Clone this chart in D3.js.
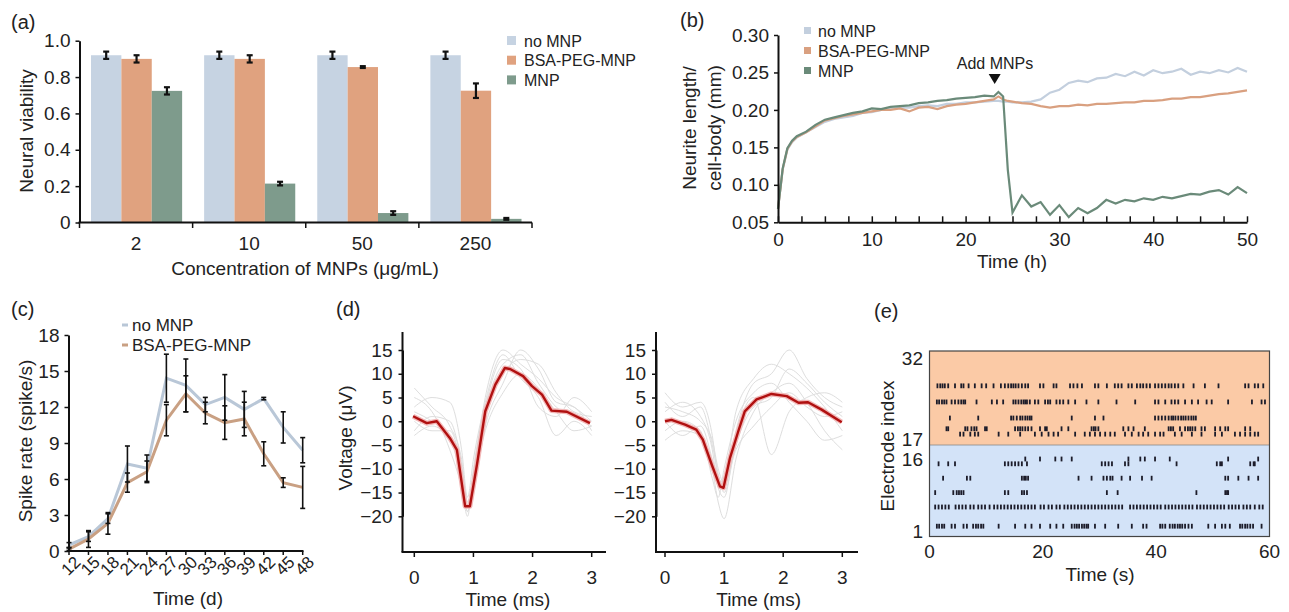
<!DOCTYPE html>
<html>
<head>
<meta charset="UTF-8">
<script src="https://d3js.org/d3.v7.min.js"></script>
<style>
  body { margin: 0; background: #fff; }
  svg text { font-family: "Liberation Sans", Arial, sans-serif; fill: #222; }
</style>
</head>
<body>
<svg id="fig" width="1289" height="612"></svg>
<script>
// ---------- (a) viability ----------
const concLabels = ["2", "10", "50", "250"];
const seriesNames = ["no MNP", "BSA-PEG-MNP", "MNP"];
const viabNoMNP = [0.92, 0.92, 0.92, 0.92];
const viabBSA   = [0.90, 0.90, 0.855, 0.725];
const viabMNP   = [0.724, 0.214, 0.052, 0.02];
const errNoMNP  = [0.02, 0.02, 0.02, 0.02];
const errBSA    = [0.02, 0.02, 0.005, 0.04];
const errMNP    = [0.02, 0.01, 0.01, 0.005];

// ---------- (b) neurite length ----------
const timeH = [0,0.5,1,1.5,2,3,4,5,6,7,8,9,10,11,12,13,14,15,16,17,18,19,20,21,22,23,23.5,24,24.5,25,
  26,27,28,29,30,31,32,33,34,35,36,37,38,39,40,41,42,43,44,45,46,47,48,49,50];
const lenNoMNP = [0.068,0.12,0.147,0.157,0.163,0.170,0.177,0.184,0.188,0.190,0.192,0.196,0.197,0.200,0.201,0.203,0.203,0.205,0.206,0.205,0.208,0.208,0.210,0.210,0.211,0.212,0.212,0.211,0.211,0.210,
  0.210,0.211,0.214,0.223,0.227,0.236,0.239,0.237,0.242,0.243,0.248,0.245,0.251,0.246,0.253,0.249,0.251,0.255,0.247,0.251,0.249,0.253,0.250,0.256,0.251];
const lenBSA = [0.068,0.121,0.148,0.158,0.164,0.170,0.178,0.186,0.189,0.192,0.194,0.196,0.198,0.200,0.200,0.202,0.198,0.203,0.204,0.201,0.205,0.207,0.208,0.210,0.212,0.214,0.218,0.214,0.212,0.211,
  0.209,0.208,0.205,0.203,0.205,0.205,0.207,0.206,0.208,0.208,0.209,0.210,0.210,0.212,0.212,0.213,0.215,0.215,0.217,0.217,0.219,0.221,0.222,0.224,0.226];
const lenMNP = [0.068,0.122,0.149,0.159,0.165,0.171,0.180,0.187,0.190,0.193,0.196,0.198,0.202,0.201,0.204,0.205,0.206,0.209,0.210,0.212,0.213,0.215,0.216,0.217,0.219,0.218,0.224,0.218,0.120,0.063,
  0.086,0.071,0.077,0.060,0.073,0.057,0.069,0.062,0.069,0.080,0.075,0.080,0.078,0.082,0.080,0.084,0.082,0.085,0.088,0.087,0.091,0.093,0.087,0.097,0.089];

// ---------- (c) spike rate ----------
const days = [12,15,18,21,24,27,30,33,36,39,42,45,48];
const rateNoMNP = [0.5,1.2,2.7,7.25,6.9,14.4,13.8,12.2,12.8,11.8,12.7,10.3,8.4];
const rateBSA   = [0.15,1.0,2.3,5.7,6.6,10.9,13.1,11.5,10.7,11.0,8.1,5.7,5.3];
const sdNoMNP   = [0.2,0.4,0.4,1.5,1.1,2.0,2.2,0.6,1.9,1.5,0.1,1.3,1.05];
const sdBSA     = [0.1,0.7,0.9,0.8,0.9,1.3,1.5,0.9,1.4,1.4,1.0,0.4,1.75];

// ---------- (d) spike waveforms ----------
const waveT = [0,0.3,0.6,0.8,0.9,1.0,1.2,1.5,1.8,2.1,2.4,2.7,3.0];
const leftTraces = [
  [7,3,-1,-8,-17,-12,2,12,14,8,3,1,-1],
  [-3,-1,-4,-12,-19,-14,-1,8,15,11,4,3,-2],
  [3,5,4,-6,-16,-8,4,14,9,5,-3,0,-3],
  [0,-2,-2,-10,-18,-15,1,10,13,12,6,2,1],
  [5,2,-6,-14,-20,-10,3,13,11,3,1,5,2],
  [-2,1,0,-9,-17,-13,-2,6,10,7,2,-2,-1],
  [2,0,-3,-11,-19,-11,5,15,12,9,5,3,0]
];
const rightTraces = [
  [6,3,4,-3,-12,-14,-2,8,10,15,9,5,3],
  [-4,-2,-3,-10,-17,-20.5,-8,2,6,8,4,-2,-6],
  [2,4,1,-6,-14,-16,-3,5,-7,2,5,6,4],
  [0,-3,-1,-8,-13,-12,2,9,12,10,7,3,-2],
  [4,1,3,-5,-11,-15,-5,3,5,11,8,4,1],
  [-2,0,-2,-12,-16,-10,0,6,8,4,0,-4,-3],
  [3,2,0,-4,-10,-13,-6,-1,3,6,3,1,2]
];
const leftMeanT = [-0.02,0.21,0.38,0.6,0.72,0.86,0.94,1.06,1.2,1.37,1.53,1.62,1.84,1.99,2.16,2.32,2.58,2.97];
const leftMeanV = [1.05,-0.4,0,-3.5,-6,-17.9,-17.9,-9.1,2.1,7.7,11.2,11.0,9.5,7.4,5.6,2.25,2.0,-0.4];
const rightMeanT = [0,0.11,0.34,0.53,0.64,0.79,0.93,0.99,1.1,1.24,1.35,1.55,1.8,2.06,2.26,2.42,2.65,2.99];
const rightMeanV = [0,0.3,-0.7,-1.75,-3.85,-9.1,-13.7,-14.0,-7.7,-2.1,2.1,4.6,5.75,5.3,3.9,4.0,2.45,-0.2];

// ---------- (e) raster ----------
const rasterElectrodes = [27,24,21,19,18,16,15,12,9,6,2];
const spikesE27 = [1.4,1.9,2.3,2.7,3.3,4.5,5.6,6.0,6.9,8.0,9.2,10.0,11.3,12.6,13.3,13.9,14.4,14.8,15.2,15.7,16.3,16.9,17.4,19.5,20.1,21.9,22.4,24.8,25.4,26.1,26.9,29.2,29.8,31.3,32.7,33.3,33.9,35.1,35.7,36.6,37.2,37.7,38.3,38.9,39.8,40.4,41.0,41.6,42.2,42.7,43.3,43.9,44.8,46.6,48.6,51.0,55.7,56.3,57.4,58.0,58.9];
const spikesE24 = [1.3,1.7,2.2,2.6,3.0,3.9,4.5,5.1,5.6,6.0,6.3,8.3,11.0,11.9,13.0,14.8,15.2,15.7,16.2,16.6,16.9,17.2,17.7,18.6,19.2,20.4,20.9,21.3,22.4,23.0,23.6,24.5,25.7,27.7,29.8,33.0,36.3,39.8,40.4,41.6,42.7,43.3,43.9,45.1,46.3,47.4,48.9,49.8,52.7,56.9,58.6,59.2];
const spikesE21 = [3.6,8.6,14.4,14.8,15.4,16.0,16.4,16.9,17.3,17.7,18.0,25.1,29.2,30.7,39.8,40.4,41.0,41.6,42.2,42.7,43.0,43.4,43.9,44.4,44.8,45.2,45.7,46.2,46.6,47.0];
const spikesE19 = [3.0,3.3,6.3,6.7,7.4,7.9,8.3,9.8,10.1,15.1,15.6,16.0,16.4,16.9,17.4,18.0,19.5,20.4,20.7,23.3,24.5,28.6,29.0,29.3,29.8,34.2,35.1,36.0,38.0,42.2,42.6,43.0,44.2,45.1,45.6,46.0,46.4,46.9,48.0,48.6,50.4,51.3,52.2,52.7,55.7,56.6];
const spikesE18 = [5.4,6.0,7.2,8.0,8.6,12.2,13.9,16.0,18.6,19.8,21.0,21.9,22.7,25.7,27.4,28.3,29.2,30.1,31.0,31.9,32.7,34.5,35.7,36.9,37.7,38.6,39.8,40.7,41.3,43.3,44.5,46.3,48.0,50.4,51.6,53.9,54.8,55.7,56.6,57.4,58.0];
const spikesE16 = [16.9,19.5,22.2,23.3,25.1,35.1,37.2,38.0,39.8,42.4,52.7,58.0];
const spikesE15 = [1.6,3.3,4.5,13.3,13.9,14.5,15.1,15.7,16.3,17.2,30.4,31.0,31.6,32.2,34.5,35.1,43.6,50.7,51.3,51.6,56.6,57.2,57.4];
const spikesE12 = [2.4,6.6,7.2,16.3,16.7,17.0,17.4,26.3,28.6,30.7,31.3,31.9,32.3,33.9,35.4,37.5,39.2,52.2,52.7,54.5,56.3,58.0];
const spikesE9  = [1.0,4.2,4.8,5.2,5.6,6.0,13.3,13.9,16.3,16.7,17.2,31.3,33.2,47.1,52.2,52.5,52.7];
const spikesE6  = [1.0,1.6,2.2,2.8,3.4,4.6,5.2,5.8,6.4,7.2,7.8,8.6,9.2,9.8,10.6,11.4,12.0,12.6,13.2,13.8,14.4,15.0,15.6,16.2,16.8,17.4,18.0,18.6,19.6,20.2,21.0,21.6,22.4,23.0,23.8,24.4,25.0,25.6,26.2,26.8,27.4,28.0,28.6,29.2,29.8,30.4,31.0,31.6,32.2,32.8,33.4,34.0,35.4,36.0,36.6,37.2,37.8,38.4,39.0,39.6,40.2,40.8,41.6,42.2,42.8,43.4,44.0,44.6,45.2,45.8,46.4,47.2,47.8,48.4,49.0,49.6,50.2,50.8,51.4,52.0,52.8,53.4,54.0,54.6,55.4,56.0,56.6,57.4,58.2,58.8];
const spikesE2  = [1.3,1.7,2.2,2.6,3.9,4.5,6.0,6.6,7.7,8.2,8.6,9.1,9.5,12.2,15.1,16.9,18.0,19.5,21.3,22.4,23.6,25.1,25.6,26.0,26.4,26.9,27.3,27.7,28.0,29.2,31.0,33.3,35.7,37.7,38.3,40.7,41.1,41.6,42.4,42.9,43.3,43.8,44.2,44.6,45.1,45.7,46.3,49.2,50.4,51.6,52.2,53.0,54.8,55.2,55.7,56.1,56.6,57.1,58.6];
const rasterSpikes = [spikesE27,spikesE24,spikesE21,spikesE19,spikesE18,spikesE16,spikesE15,spikesE12,spikesE9,spikesE6,spikesE2];

const colNo = "#c6d3e2", colBSA = "#e0a27f", colMNP = "#7e9b8c";
const FS = 19;   // tick labels and axis titles
const svg = d3.select("#fig");
svg.append("rect").attr("width", 1289).attr("height", 612).attr("fill", "#fff");

function txt(x, y, s, size, anchor, rot) {
  const t = svg.append("text").attr("font-size", size || FS)
    .attr("text-anchor", anchor || "middle").text(s);
  if (rot) t.attr("transform", `translate(${x},${y}) rotate(${rot})`).attr("dominant-baseline", "central");
  else t.attr("x", x).attr("y", y);
  return t;
}
function styleAxis(g) {
  g.attr("font-family", null).attr("font-size", null);
  g.select(".domain").attr("stroke", "#111").attr("stroke-width", 2);
  g.selectAll(".tick line").attr("stroke", "#111").attr("stroke-width", 1.5);
  g.selectAll(".tick text").attr("font-size", FS).attr("fill", "#222");
}

// ================= (a) =================
txt(11, 29, "(a)", 20, "start");
const xA = d3.scaleBand().domain(concLabels).range([79.5, 532]);
const xAin = d3.scaleBand().domain(seriesNames).range([11.5, xA.bandwidth() - 10.5]);
const yA = d3.scaleLinear().domain([0, 1]).range([222.5, 40.7]);
const valsA = [viabNoMNP, viabBSA, viabMNP], errsA = [errNoMNP, errBSA, errMNP], colsA = [colNo, colBSA, colMNP];
const barsA = [];
seriesNames.forEach((s, si) => concLabels.forEach((c, ci) =>
  barsA.push({ s, c, v: valsA[si][ci], e: errsA[si][ci], col: colsA[si] })));
svg.append("g").selectAll("rect").data(barsA).join("rect")
  .attr("x", d => xA(d.c) + xAin(d.s)).attr("width", xAin.bandwidth())
  .attr("y", d => yA(d.v)).attr("height", d => yA(0) - yA(d.v)).attr("fill", d => d.col);
const ebA = svg.append("g").attr("stroke", "#111").attr("stroke-width", 2.2);
barsA.forEach(d => {
  const cx = xA(d.c) + xAin(d.s) + xAin.bandwidth() / 2;
  ebA.append("line").attr("x1", cx).attr("x2", cx).attr("y1", yA(d.v + d.e)).attr("y2", yA(d.v - d.e));
  [d.v + d.e, d.v - d.e].forEach(v => ebA.append("line").attr("x1", cx - 3).attr("x2", cx + 3).attr("y1", yA(v)).attr("y2", yA(v)));
});
styleAxis(svg.append("g").attr("transform", "translate(79.5,0)")
  .call(d3.axisLeft(yA).tickValues([0, 0.2, 0.4, 0.6, 0.8, 1]).tickFormat(d => d === 0 ? "0" : d3.format(".1f")(d))
    .tickSize(4).tickSizeOuter(0).tickPadding(5)));
svg.append("line").attr("x1", 78.5).attr("x2", 532).attr("y1", 222.5).attr("y2", 222.5).attr("stroke", "#111").attr("stroke-width", 2);
d3.range(5).forEach(i => {
  const x = 79.5 + i * xA.bandwidth();
  svg.append("line").attr("x1", x).attr("x2", x).attr("y1", 222.5).attr("y2", 228).attr("stroke", "#111").attr("stroke-width", 1.5);
});
concLabels.forEach(c => txt(xA(c) + xA.bandwidth() / 2, 250, c));
txt(305, 275, "Concentration of MNPs (μg/mL)");
txt(26, 131, "Neural viability", FS, "middle", -90);
seriesNames.forEach((s, i) => {
  svg.append("rect").attr("x", 507).attr("y", 36 + i * 19.7).attr("width", 9).attr("height", 9).attr("fill", colsA[i]);
  txt(524, 46.5 + i * 19.7, s, 16, "start");
});

// ================= (b) =================
txt(680, 27, "(b)", 20, "start");
const xB = d3.scaleLinear().domain([0, 50]).range([778, 1247]);
const yB = d3.scaleLinear().domain([0.05, 0.30]).range([222.3, 35]);
const lineB = d3.line().x((d, i) => xB(timeH[i])).y(d => yB(d));
[[lenNoMNP, "#c3cfde"], [lenBSA, "#d9a080"], [lenMNP, "#6a8a79"]].forEach(([arr, col]) =>
  svg.append("path").datum(arr).attr("d", lineB).attr("fill", "none").attr("stroke", col).attr("stroke-width", 2.2));
styleAxis(svg.append("g").attr("transform", "translate(778,0)")
  .call(d3.axisLeft(yB).tickValues([0.05, 0.10, 0.15, 0.20, 0.25, 0.30]).tickFormat(d3.format(".2f"))
    .tickSize(4).tickSizeOuter(0).tickPadding(5)));
styleAxis(svg.append("g").attr("transform", "translate(0,222.3)")
  .call(d3.axisBottom(xB).tickValues(d3.range(0, 50.1, 2.5)).tickFormat(d => d % 10 === 0 ? d : "")
    .tickSize(-6).tickSizeOuter(0).tickPadding(10)));
txt(1012, 268, "Time (h)");
txt(689, 128, "Neurite length/", FS, "middle", -90);
txt(714, 128, "cell-body (mm)", FS, "middle", -90);
[["no MNP", "#c3cfde"], ["BSA-PEG-MNP", "#d9a080"], ["MNP", "#6a8a79"]].forEach(([s, col], i) => {
  svg.append("rect").attr("x", 804).attr("y", 27 + i * 20).attr("width", 7).attr("height", 7).attr("fill", col);
  txt(818, 37 + i * 20, s, 16, "start");
});
txt(995, 69, "Add MNPs", 16);
svg.append("path").attr("d", `M${xB(23.1) - 6},74 L${xB(23.1) + 6},74 L${xB(23.1)},84 Z`).attr("fill", "#111");

// ================= (c) =================
txt(11, 316, "(c)", 20, "start");
const xC = d3.scalePoint().domain(days).range([69, 302.7]);
const yC = d3.scaleLinear().domain([0, 18]).range([551, 335]);
const lineC = d3.line().x((d, i) => xC(days[i])).y(d => yC(d));
svg.append("path").datum(rateNoMNP).attr("d", lineC).attr("fill", "none").attr("stroke", "#b9c7d7").attr("stroke-width", 3);
svg.append("path").datum(rateBSA).attr("d", lineC).attr("fill", "none").attr("stroke", "#c9a083").attr("stroke-width", 3);
const ebC = svg.append("g").attr("stroke", "#111").attr("stroke-width", 1.6);
[[rateNoMNP, sdNoMNP], [rateBSA, sdBSA]].forEach(([m, sd]) => days.forEach((d, i) => {
  const x = xC(d);
  ebC.append("line").attr("x1", x).attr("x2", x).attr("y1", yC(m[i] + sd[i])).attr("y2", yC(Math.max(0, m[i] - sd[i])));
  [m[i] + sd[i], Math.max(0, m[i] - sd[i])].forEach(v =>
    ebC.append("line").attr("x1", x - 2.5).attr("x2", x + 2.5).attr("y1", yC(v)).attr("y2", yC(v)));
}));
styleAxis(svg.append("g").attr("transform", "translate(68.5,0)")
  .call(d3.axisLeft(yC).tickValues(d3.range(0, 19, 3)).tickSize(4).tickSizeOuter(0).tickPadding(5)));
svg.append("line").attr("x1", 67.5).attr("x2", 303.5).attr("y1", 551).attr("y2", 551).attr("stroke", "#111").attr("stroke-width", 2);
days.forEach(d => {
  svg.append("line").attr("x1", xC(d)).attr("x2", xC(d)).attr("y1", 551).attr("y2", 555).attr("stroke", "#111").attr("stroke-width", 1.5);
  txt(xC(d) + 2, 566, d, 17, "middle", -45);
});
txt(188, 605, "Time (d)");
txt(25, 441, "Spike rate (spike/s)", FS, "middle", -90);
[["no MNP", "#b9c7d7"], ["BSA-PEG-MNP", "#c9a083"]].forEach(([s, col], i) => {
  svg.append("line").attr("x1", 122).attr("x2", 128).attr("y1", 325 + i * 20).attr("y2", 325 + i * 20).attr("stroke", col).attr("stroke-width", 3);
  txt(132, 331 + i * 20, s, 17, "start");
});

// ================= (d) =================
txt(336, 316, "(d)", 20, "start");
const yD = d3.scaleLinear().domain([-20, 15]).range([516.3, 350]);
function spikePanel(axisX, x0, x3, axisEnd, traces, mt, mv) {
  const xD = d3.scaleLinear().domain([0, 3]).range([x0, x3]);
  const g = svg.append("g");
  const lineT = d3.line().x((d, i) => xD(waveT[i])).y(d => yD(d)).curve(d3.curveMonotoneX);
  traces.forEach(tr => g.append("path").datum(tr).attr("d", lineT).attr("fill", "none")
    .attr("stroke", "#dedede").attr("stroke-width", 1));
  const lineM = d3.line().x((d, i) => xD(mt[i])).y(d => yD(d));
  g.append("path").datum(mv).attr("d", lineM).attr("fill", "none").attr("stroke", "#f2b8b8").attr("stroke-width", 5).attr("stroke-linejoin", "round");
  g.append("path").datum(mv).attr("d", lineM).attr("fill", "none").attr("stroke", "#b01010").attr("stroke-width", 2.4).attr("stroke-linejoin", "round");
  styleAxis(svg.append("g").attr("transform", `translate(${axisX},0)`)
    .call(d3.axisLeft(yD).tickValues(d3.range(-20, 16, 5)).tickSize(4).tickSizeOuter(0).tickPadding(6)));
  svg.append("line").attr("x1", axisX).attr("x2", axisX).attr("y1", 332).attr("y2", 552).attr("stroke", "#111").attr("stroke-width", 2);
  svg.append("line").attr("x1", axisX - 1).attr("x2", axisEnd).attr("y1", 552).attr("y2", 552).attr("stroke", "#111").attr("stroke-width", 2);
  [0, 1, 2, 3].forEach(v => {
    svg.append("line").attr("x1", xD(v)).attr("x2", xD(v)).attr("y1", 552).attr("y2", 557).attr("stroke", "#111").attr("stroke-width", 1.5);
    txt(xD(v), 584, v);
  });
  txt((x0 + x3) / 2 + 5, 606, "Time (ms)");
}
spikePanel(402.5, 414.3, 591.7, 606, leftTraces, leftMeanT, leftMeanV);
spikePanel(656, 665, 842.3, 858, rightTraces, rightMeanT, rightMeanV);
txt(345, 438, "Voltage (μV)", FS, "middle", -90);

// ================= (e) =================
txt(874, 318, "(e)", 20, "start");
const xE = d3.scaleLinear().domain([0, 60]).range([929.5, 1269.5]);
const yEtop = d3.scaleLinear().domain([17, 32]).range([439.5, 359]);
const yEbot = d3.scaleLinear().domain([1, 16]).range([531, 459]);
const yE = e => e >= 17 ? yEtop(e) : yEbot(e);
svg.append("rect").attr("x", 929.5).attr("y", 351).attr("width", 340).attr("height", 94).attr("fill", "#fbcaa6");
svg.append("rect").attr("x", 929.5).attr("y", 445).attr("width", 340).attr("height", 91.5).attr("fill", "#d3e3f8");
svg.append("line").attr("x1", 929.5).attr("x2", 1269.5).attr("y1", 445).attr("y2", 445).attr("stroke", "#888").attr("stroke-width", 0.8);
rasterElectrodes.forEach((e, ri) => {
  svg.append("g").selectAll("rect").data(rasterSpikes[ri]).join("rect")
    .attr("x", t => xE(t) - 0.9).attr("width", 1.8)
    .attr("y", yE(e) - 2.4).attr("height", 4.8).attr("fill", "#1c1c2a");
});
svg.append("rect").attr("x", 929.5).attr("y", 351).attr("width", 340).attr("height", 185.5)
  .attr("fill", "none").attr("stroke", "#444").attr("stroke-width", 1.2);
[[32, yEtop(32) - 1], [17, yEtop(17) - 1], [16, yEbot(16)], [1, yEbot(1)]].forEach(([lab, y]) =>
  txt(923, y + 7, lab, FS, "end"));
[0, 20, 40, 60].forEach(v => txt(xE(v), 558, v));
txt(1100, 581, "Time (s)");
txt(887, 446, "Electrode index", FS, "middle", -90);
</script>
</body>
</html>
